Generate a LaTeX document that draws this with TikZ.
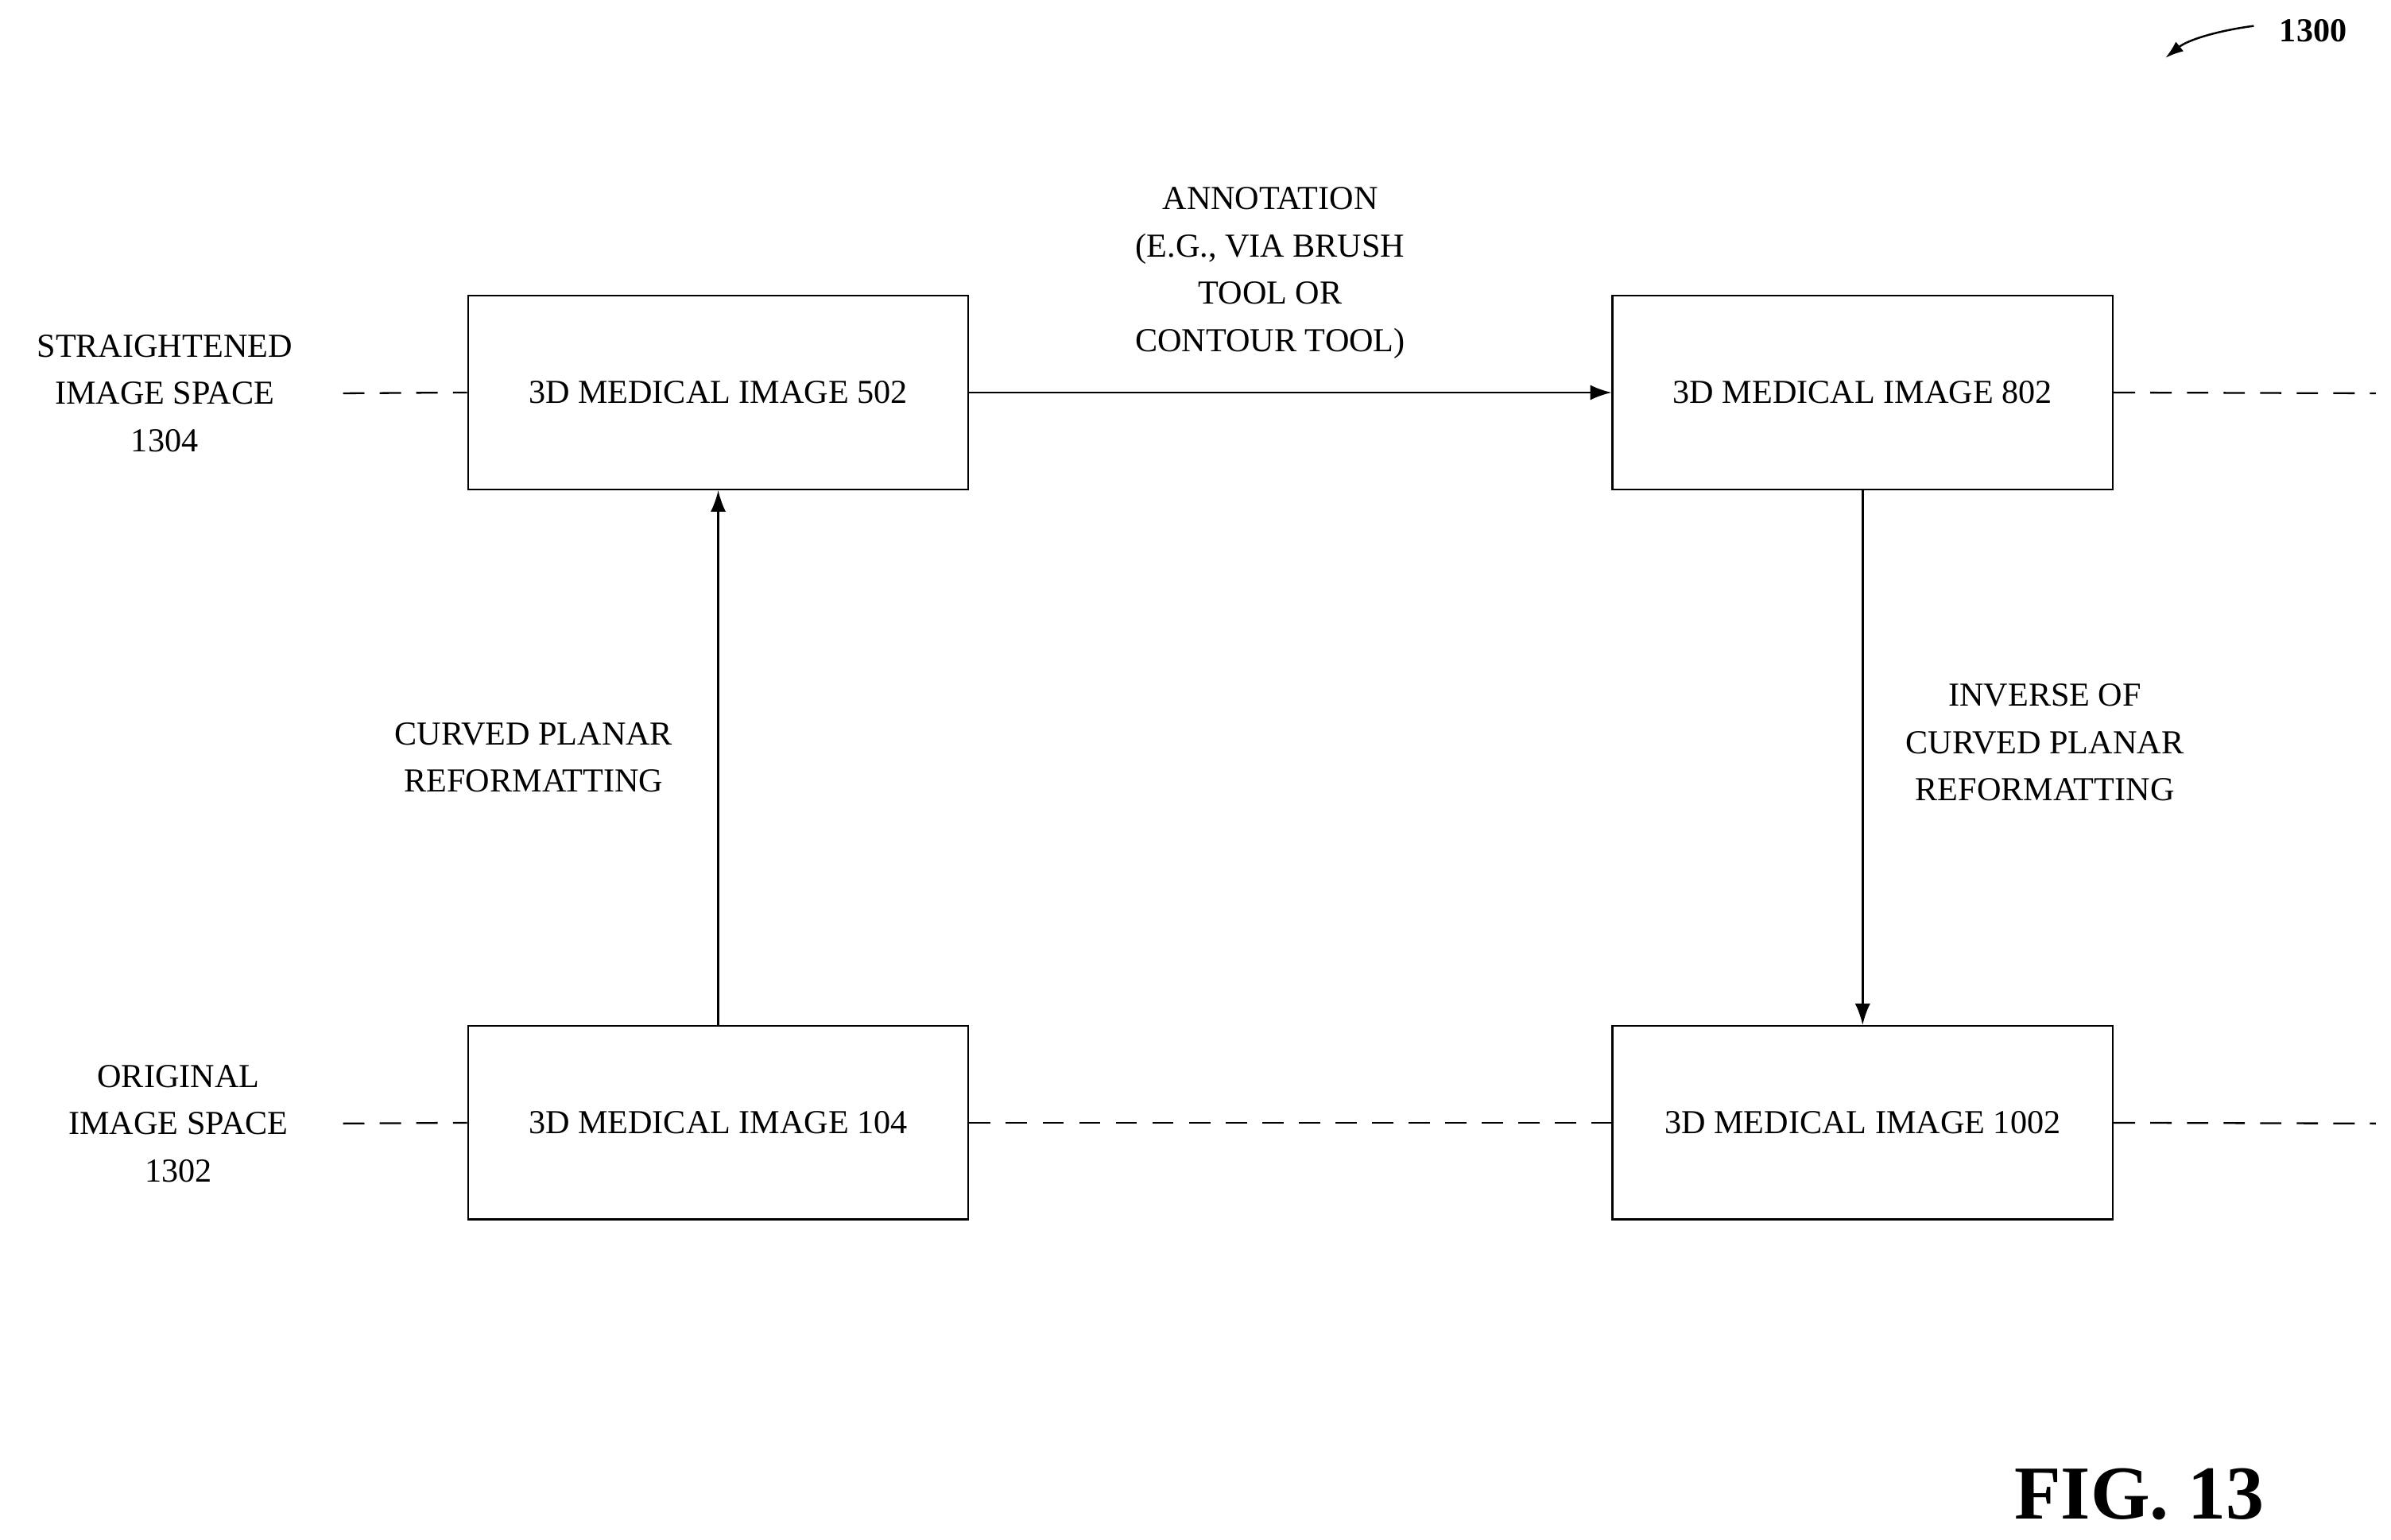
\documentclass[tikz,border=0pt]{standalone}
\usepackage{fontspec}
\setmainfont{Liberation Serif}
\usetikzlibrary{arrows.meta}
\begin{document}
\begin{tikzpicture}[x=1pt,y=-1pt,
  box/.style={draw,line width=1.3pt,minimum width=328pt,minimum height=127pt,inner sep=0pt,font=\fontsize{22}{31}\selectfont},
  lbl/.style={align=center,font=\fontsize{22}{31}\selectfont,inner sep=0pt},
  dsh/.style={line width=1.2pt,dash pattern=on 14pt off 10pt},
  arr/.style={line width=1.3pt,-{Latex[length=14pt,width=10pt]}}]
\useasboundingbox (0,0) rectangle (1568,1010);
\node[box] (a) at (471,257.5) {3D MEDICAL IMAGE 502};
\node[box] (b) at (1221.5,257.5) {3D MEDICAL IMAGE 802};
\node[box] (c) at (471,736.5) {3D MEDICAL IMAGE 104};
\node[box] (d) at (1221.5,736.5) {3D MEDICAL IMAGE 1002};
\node[lbl] (s) at (108,258) {STRAIGHTENED\\IMAGE SPACE\\1304};
\node[lbl] (o) at (117,737) {ORIGINAL\\IMAGE SPACE\\1302};
\node[lbl] (an) at (833,179) {ANNOTATION\\(E.G., VIA BRUSH\\TOOL OR\\CONTOUR TOOL)};
\node[lbl] (cp) at (350,497) {CURVED PLANAR\\REFORMATTING};
\node[lbl] (inv) at (1341,487) {INVERSE OF\\CURVED PLANAR\\REFORMATTING};
\node[font=\fontsize{50}{50}\selectfont\bfseries,inner sep=0pt] (fig) at (1403,980) {FIG. 13};
\node[font=\fontsize{22}{22}\selectfont\bfseries,inner sep=0pt] (n) at (1517,20) {1300};
\coordinate (l1) at (225,258); \coordinate (r1) at (1558,258);
\coordinate (l2) at (225,737); \coordinate (r2) at (1558,737);
\draw[dsh] (l1) -- (a.west);
\draw[dsh] (b.east) -- (r1);
\draw[dsh] (l2) -- (c.west);
\draw[dsh] (c.east) -- (d.west);
\draw[dsh] (d.east) -- (r2);
\draw[arr] (a.east) -- (b.west);
\draw[arr] (c.north) -- (a.south);
\draw[arr] (b.south) -- (d.north);
\coordinate (t) at (1478,17);
\draw[line width=1.3pt,-{Latex[length=12pt,width=8pt]}] (t) .. controls (1455,20) and (1435,26) .. (1420,38);
\end{tikzpicture}
\end{document}
